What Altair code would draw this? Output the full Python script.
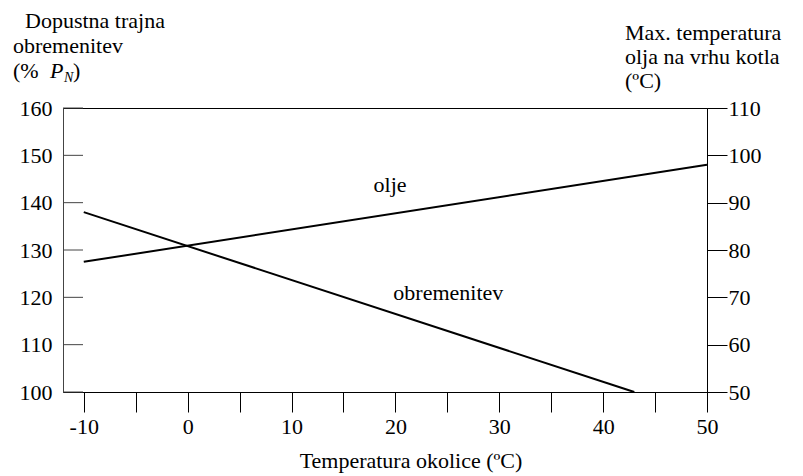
import altair as alt
import pandas as pd

# ---- data ----
load_x = [-10, 43]          # ambient temperature (ºC)
load_y = [138, 100]         # permissible load (% P_N), left axis
oil_x = [-10, 50]
oil_y = [77.5, 98]          # max top-oil temperature (ºC), right axis

x_ticks = [-10, -5, 0, 5, 10, 15, 20, 25, 30, 35, 40, 45, 50]
left_ticks = [100, 110, 120, 130, 140, 150, 160]
right_ticks = [50, 60, 70, 80, 90, 100, 110]

x_domain = [-12, 50]
left_domain = [100, 160]
right_domain = [50, 110]

FONT = "Liberation Serif"
FS = 22

load_df = pd.DataFrame({"t": load_x, "v": load_y})
oil_df = pd.DataFrame({"t": oil_x, "v": oil_y})
lt_df = pd.DataFrame({"v": left_ticks})

xenc = alt.X("t:Q", scale=alt.Scale(domain=x_domain, nice=False, zero=False),
             axis=alt.Axis(values=x_ticks, labelExpr="datum.value % 10 === 0 ? '' + datum.value : ''",
                           tickSize=20, tickColor="black", domainColor="black",
                           labelFont=FONT, labelFontSize=FS, labelColor="black",
                           labelPadding=4, labelFlush=False, labelOverlap=False,
                           grid=False, title=None))

load_line = alt.Chart(load_df).mark_line(color="black", strokeWidth=2).encode(
    x=xenc,
    y=alt.Y("v:Q", scale=alt.Scale(domain=left_domain, nice=False, zero=False),
            axis=alt.Axis(orient="left", values=left_ticks, ticks=False, labelPadding=11,
                          domainColor="#444", labelFont=FONT, labelFontSize=FS,
                          labelColor="black", grid=False, title=None, labelFlush=False,
                          labelOverlap=False)),
)

oil_line = alt.Chart(oil_df).mark_line(color="black", strokeWidth=2).encode(
    x=xenc,
    y=alt.Y("v:Q", scale=alt.Scale(domain=right_domain, nice=False, zero=False),
            axis=alt.Axis(orient="right", values=right_ticks, tickSize=20, tickColor="black",
                          domainColor="black", labelPadding=1, labelFont=FONT,
                          labelFontSize=FS, labelColor="black", grid=False, title=None,
                          labelFlush=False, labelOverlap=False)),
)

left_inner_ticks = alt.Chart(lt_df).mark_rule(color="#444", strokeWidth=1).encode(
    x=alt.value(0), x2=alt.value(20),
    y=alt.Y("v:Q", scale=alt.Scale(domain=left_domain, nice=False, zero=False), axis=None),
)

lab_df = pd.DataFrame({"t": [17.9, 19.8], "v": [142.3, 119.4], "txt": ["olje", "obremenitev"]})
labels = alt.Chart(lab_df).mark_text(font=FONT, fontSize=FS, align="left",
                                     baseline="alphabetic", color="black").encode(
    x=xenc,
    y=alt.Y("v:Q", scale=alt.Scale(domain=left_domain, nice=False, zero=False), axis=None),
    text="txt:N",
)

def txt(s, x, y, size=FS, style="normal", align="left"):
    return alt.Chart(pd.DataFrame({"s": [s]})).mark_text(
        font=FONT, fontSize=size, fontStyle=style, align=align, baseline="alphabetic",
        color="black").encode(x=alt.value(x), y=alt.value(y), text="s:N")

titles = [
    txt("Dopustna trajna", -38, -80),
    txt("obremenitev", -50, -55),
    txt("(%", -50, -30),
    txt("P", -13, -30, style="italic"),
    txt("N", 1, -26, size=14, style="italic"),
    txt(")", 10, -30),
    txt("Max. temperatura", 562, -68),
    txt("olja na vrhu kotla", 562, -44),
    txt("(ºC)", 562, -20),
    txt("Temperatura okolice (ºC)", 348, 360, align="center"),
]

chart = alt.layer(load_line, oil_line, left_inner_ticks, labels, *titles).resolve_scale(
    y="independent"
).properties(
    width=644, height=284,
    autosize=alt.AutoSizeParams(type="none"),
    padding={"left": 63, "top": 108, "right": 96, "bottom": 84},
).configure(font=FONT, background="white").configure_view(stroke="black", strokeWidth=1)

chart.save("out.html", embed_options={"renderer": "svg", "actions": False})
